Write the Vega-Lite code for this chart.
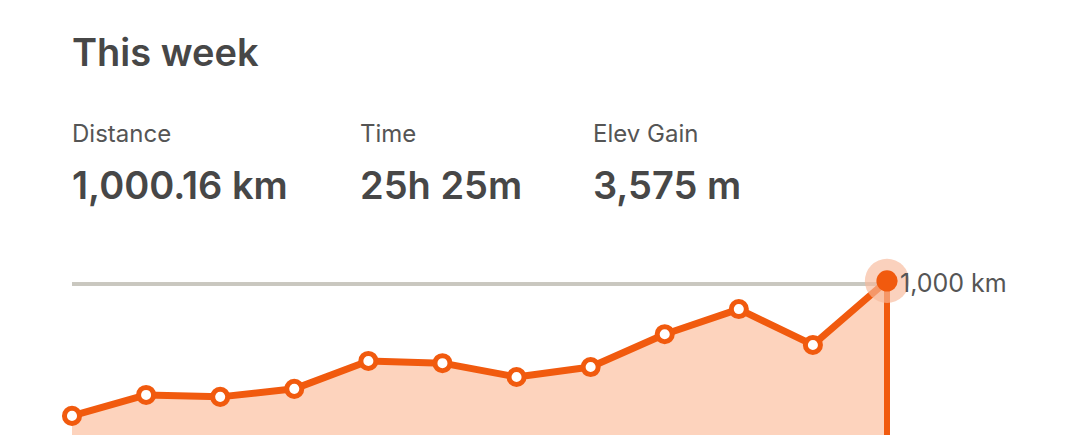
{
  "$schema": "https://vega.github.io/schema/vega-lite/v6.json",
  "padding": {"left": 54, "top": 36, "right": 0, "bottom": 0},
  "background": "white",
  "bounds": "flush",
  "config": {"view": {"stroke": null}, "font": "Inter"},
  "title": {"text": "This week", "anchor": "start", "frame": "group", "fontSize": 38, "font": "Inter", "fontWeight": 600, "color": "#474747", "offset": 49},
  "vconcat": [
    {
      "hconcat": [
        {
          "width": 268, "height": 57,
          "data": {"values": [{"label": "Distance", "value": "1,000.16 km"}]},
          "layer": [
            {"mark": {"type": "text", "align": "left", "baseline": "alphabetic", "fontSize": 24, "color": "#555555", "font": "Inter"},
             "encoding": {"x": {"datum": 0, "type": "quantitative", "scale": {"domain": [0, 1]}, "axis": null}, "y": {"datum": "label", "type": "ordinal", "scale": {"domain": ["label", "value"], "padding": 0}, "axis": null}, "text": {"field": "label"}}},
            {"mark": {"type": "text", "align": "left", "baseline": "alphabetic", "fontSize": 38, "fontWeight": 600, "color": "#474747", "font": "Inter"},
             "encoding": {"x": {"datum": 0, "type": "quantitative", "scale": {"domain": [0, 1]}, "axis": null}, "y": {"datum": "value", "type": "ordinal", "axis": null}, "text": {"field": "value"}}}
          ]
        },
        {
          "width": 213, "height": 57,
          "data": {"values": [{"label": "Time", "value": "25h 25m"}]},
          "layer": [
            {"mark": {"type": "text", "align": "left", "baseline": "alphabetic", "fontSize": 24, "color": "#555555", "font": "Inter"},
             "encoding": {"x": {"datum": 0, "type": "quantitative", "scale": {"domain": [0, 1]}, "axis": null}, "y": {"datum": "label", "type": "ordinal", "scale": {"domain": ["label", "value"], "padding": 0}, "axis": null}, "text": {"field": "label"}}},
            {"mark": {"type": "text", "align": "left", "baseline": "alphabetic", "fontSize": 38, "fontWeight": 600, "color": "#474747", "font": "Inter"},
             "encoding": {"x": {"datum": 0, "type": "quantitative", "scale": {"domain": [0, 1]}, "axis": null}, "y": {"datum": "value", "type": "ordinal", "axis": null}, "text": {"field": "value"}}}
          ]
        },
        {
          "width": 200, "height": 57,
          "data": {"values": [{"label": "Elev Gain", "value": "3,575 m"}]},
          "layer": [
            {"mark": {"type": "text", "align": "left", "baseline": "alphabetic", "fontSize": 24, "color": "#555555", "font": "Inter"},
             "encoding": {"x": {"datum": 0, "type": "quantitative", "scale": {"domain": [0, 1]}, "axis": null}, "y": {"datum": "label", "type": "ordinal", "scale": {"domain": ["label", "value"], "padding": 0}, "axis": null}, "text": {"field": "label"}}},
            {"mark": {"type": "text", "align": "left", "baseline": "alphabetic", "fontSize": 38, "fontWeight": 600, "color": "#474747", "font": "Inter"},
             "encoding": {"x": {"datum": 0, "type": "quantitative", "scale": {"domain": [0, 1]}, "axis": null}, "y": {"datum": "value", "type": "ordinal", "axis": null}, "text": {"field": "value"}}}
          ]
        }
      ],
      "spacing": 20
    },
    {
      "width": 815,
      "height": 310,
      "data": {"values": [
        {"week": 0, "km": 522},
        {"week": 1, "km": 598},
        {"week": 2, "km": 591},
        {"week": 3, "km": 620},
        {"week": 4, "km": 721},
        {"week": 5, "km": 713},
        {"week": 6, "km": 663},
        {"week": 7, "km": 699},
        {"week": 8, "km": 818},
        {"week": 9, "km": 909},
        {"week": 10, "km": 779},
        {"week": 11, "km": 1011}
      ]},
      "encoding": {
        "x": {"field": "week", "type": "quantitative", "scale": {"domain": [0, 11], "nice": false, "zero": false}, "axis": null},
        "y": {"field": "km", "type": "quantitative", "scale": {"domain": [0, 1123], "nice": false}, "axis": null}
      },
      "layer": [
        {"mark": {"type": "area", "color": "#fdd3bd"}},
        {"mark": {"type": "rule", "color": "#c9c7bf", "strokeWidth": 3},
         "encoding": {"x": {"datum": 0, "type": "quantitative"}, "x2": {"datum": 11}, "y": {"datum": 1000, "type": "quantitative"}}},
        {"mark": {"type": "line", "color": "#f15a0e", "strokeWidth": 7, "strokeJoin": "round"}},
        {"transform": [{"filter": "datum.week == 11"}],
         "mark": {"type": "rule", "color": "#f15a0e", "strokeWidth": 6},
         "encoding": {"y2": {"datum": 0}}},
        {"transform": [{"filter": "datum.week < 11"}],
         "mark": {"type": "point", "shape": "circle", "filled": true, "fill": "white", "stroke": "#f15a0e", "strokeWidth": 5, "size": 227, "opacity": 1}},
        {"transform": [{"filter": "datum.week == 11"}],
         "mark": {"type": "point", "shape": "circle", "filled": true, "color": "#f7b89a", "size": 1960, "opacity": 0.65}},
        {"transform": [{"filter": "datum.week == 11"}],
         "mark": {"type": "point", "shape": "circle", "filled": true, "color": "#f15a0e", "size": 450, "opacity": 1}},
        {"transform": [{"filter": "datum.week == 11"}],
         "mark": {"type": "text", "align": "left", "baseline": "middle", "dx": 13, "fontSize": 25, "color": "#555555", "font": "Inter"},
         "encoding": {"y": {"datum": 1000, "type": "quantitative"}, "text": {"value": "1,000 km"}}}
      ]
    }
  ],
  "spacing": 108
}
